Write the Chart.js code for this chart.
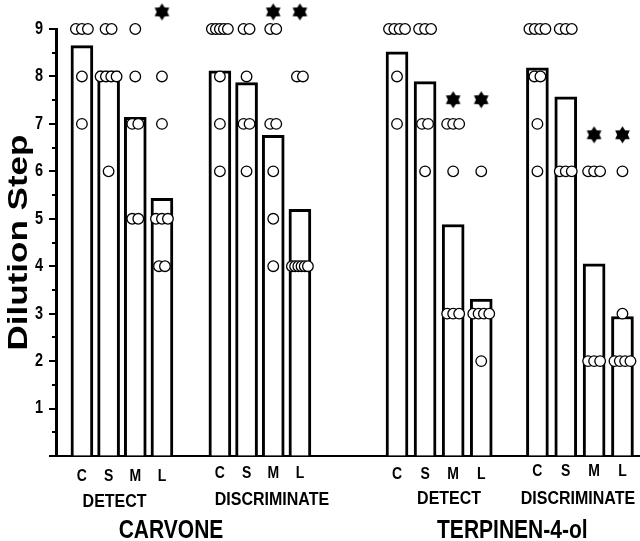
<!DOCTYPE html>
<html><head><meta charset="utf-8">
<script src="https://cdn.jsdelivr.net/npm/chart.js@4/dist/chart.umd.min.js"></script>
<style>html,body{margin:0;padding:0;background:#fff}</style>
</head><body>
<canvas id="c" width="640" height="541"></canvas>
<script>
// ---------- data ----------
const categories = ['C', 'S', 'M', 'L'];
const tasks = ['DETECT', 'DISCRIMINATE', 'DETECT', 'DISCRIMINATE'];
const compounds = ['CARVONE', 'TERPINEN-4-ol'];
const yTickValues = [1, 2, 3, 4, 5, 6, 7, 8, 9];
const yTitle = 'Dilution Step';

const carvoneDetectMeans  = [8.65, 8.12, 7.14, 5.43];
const carvoneDiscrimMeans = [8.12, 7.87, 6.76, 5.20];
const terpDetectMeans     = [8.52, 7.89, 4.88, 3.31];
const terpDiscrimMeans    = [8.18, 7.57, 4.05, 2.94];

const carvoneDetectPts  = [[9,9,9,8,7], [9,9,8,8,8,8,6], [9,8,7,7,5,5], [8,7,5,5,5,4,4]];
const carvoneDiscrimPts = [[9,9,9,9,9,8,7,6], [9,9,8,7,7,6], [9,9,7,7,6,5,4], [8,8,4,4,4,4,4,4]];
const terpDetectPts     = [[9,9,9,9,8,7], [9,9,9,7,7,6], [7,7,7,6,3,3,3], [6,3,3,3,3,2]];
const terpDiscrimPts    = [[9,9,9,9,8,8,7,6], [9,9,9,6,6,6], [6,6,6,2,2,2], [6,3,2,2,2,2]];

// significance markers (asterisks); null = none
const carvoneDetectSig  = [null, null, null, 9.36];
const carvoneDiscrimSig = [null, null, 9.36, 9.36];
const terpDetectSig     = [null, null, 7.51, 7.51];
const terpDiscrimSig    = [null, null, 6.77, 6.77];

// ---------- layout (x scale units: one bar slot) ----------
const groupStart = [0.96, 6.07, 12.63, 17.83];
const barStep    = [0.988, 0.988, 1.04, 1.05];
const taskLabelX = [2.17, 8.0, 14.56, 19.33];
const compoundLabelX = [4.26, 16.9];
const catLabelY  = [476, 473, 474, 471];
const taskLabelY = [502, 500, 499, 499];
const PX_PER_UNIT = 27;

const meansByGroup = [carvoneDetectMeans, carvoneDiscrimMeans, terpDetectMeans, terpDiscrimMeans];
const ptsByGroup   = [carvoneDetectPts, carvoneDiscrimPts, terpDetectPts, terpDiscrimPts];
const sigByGroup   = [carvoneDetectSig, carvoneDiscrimSig, terpDetectSig, terpDiscrimSig];

const barData = [], circleData = [], starData = [], barPositions = [];
meansByGroup.forEach((means, g) => {
  means.forEach((m, i) => {
    const x = groupStart[g] + i * barStep[g];
    barPositions.push(x);
    barData.push({x: x, y: m});
    const vals = ptsByGroup[g][i];
    const counts = {};
    vals.forEach(v => counts[v] = (counts[v] || 0) + 1);
    Object.keys(counts).forEach(k => {
      const n = counts[k];
      const sp = n > 1 ? Math.min(6, 16 / (n - 1)) : 0;
      for (let j = 0; j < n; j++) {
        circleData.push({x: x + ((j - (n - 1) / 2) * sp) / PX_PER_UNIT, y: Number(k)});
      }
    });
    const s = sigByGroup[g][i];
    if (s !== null) starData.push({x: x, y: s});
  });
});

// ---------- star glyph ----------
function makeStar(r) {
  const s = Math.ceil(r * 2 + 2);
  const c = document.createElement('canvas');
  c.width = s; c.height = s;
  const g = c.getContext('2d');
  g.translate(s / 2, s / 2);
  g.beginPath();
  for (let k = 0; k < 12; k++) {
    const a = -Math.PI / 2 + k * Math.PI / 6;
    const rr = k % 2 === 0 ? r : r * 0.62;
    g.lineTo(rr * Math.cos(a), rr * Math.sin(a));
  }
  g.closePath();
  g.fillStyle = '#000';
  g.fill();
  return c;
}
const starImg = makeStar(8.5);

const FONT = '"Liberation Sans", Arial, Helvetica, sans-serif';
Chart.defaults.color = '#000';
Chart.defaults.font.family = FONT;

function stretchedText(ctx, text, x, y, sy) {
  ctx.save();
  ctx.translate(x, y);
  ctx.scale(1, sy);
  ctx.fillText(text, 0, 0);
  ctx.restore();
}

const textPlugin = {
  id: 'texts',
  afterDraw(chart) {
    const ctx = chart.ctx;
    const xs = chart.scales.x, ys = chart.scales.y;
    const left = chart.chartArea.left;
    ctx.save();
    // y minor/major tick marks
    ctx.strokeStyle = '#000';
    ctx.lineWidth = 2;
    for (let v = 0; v <= 9.001; v += 0.5) {
      const py = Math.round(ys.getPixelForValue(v));
      const len = Math.abs(v - Math.round(v)) < 0.01 ? 7 : 4;
      ctx.beginPath();
      ctx.moveTo(left - len, py);
      ctx.lineTo(left, py);
      ctx.stroke();
    }
    ctx.fillStyle = '#000';
    // y tick labels
    ctx.textAlign = 'right';
    ctx.textBaseline = 'middle';
    ctx.font = 'bold 14.5px ' + FONT;
    yTickValues.forEach(v => stretchedText(ctx, String(v), left - 13, ys.getPixelForValue(v), 1.22));
    ctx.textAlign = 'center';
    // category labels under bars
    ctx.font = 'bold 14px ' + FONT;
    barPositions.forEach((v, i) => {
      const g = Math.floor(i / categories.length);
      stretchedText(ctx, categories[i % categories.length], xs.getPixelForValue(v), catLabelY[g], 1.2);
    });
    // task labels
    ctx.font = 'bold 16px ' + FONT;
    tasks.forEach((t, i) => stretchedText(ctx, t, xs.getPixelForValue(taskLabelX[i]), taskLabelY[i], 1.2));
    // compound labels
    ctx.font = 'bold 21px ' + FONT;
    compounds.forEach((t, i) => stretchedText(ctx, t, xs.getPixelForValue(compoundLabelX[i]), 531, 1.2));
    // y title
    ctx.font = 'bold 28px ' + FONT;
    ctx.save();
    ctx.translate(19, (ys.top + ys.bottom) / 2);
    ctx.rotate(-Math.PI / 2);
    ctx.scale(1.25, 1);
    ctx.fillText(yTitle, 0, 0);
    ctx.restore();
    ctx.restore();
  }
};

new Chart(document.getElementById('c'), {
  type: 'bar',
  data: {
    datasets: [
      {
        type: 'scatter', data: starData, order: 1, clip: false,
        pointStyle: starImg, radius: 20, hoverRadius: 20
      },
      {
        type: 'scatter', data: circleData, order: 2, clip: false,
        pointStyle: 'circle', radius: 5.3, borderWidth: 1.3,
        borderColor: '#000', backgroundColor: '#fff'
      },
      {
        type: 'bar', data: barData, order: 3,
        barThickness: 22, borderWidth: 3, borderColor: '#000',
        backgroundColor: '#fff', borderSkipped: 'bottom'
      }
    ]
  },
  options: {
    responsive: false,
    animation: false,
    events: [],
    layout: {autoPadding: false, padding: {top: 29, left: 0, right: 0, bottom: 0}},
    plugins: {legend: {display: false}, tooltip: {enabled: false}},
    scales: {
      x: {
        type: 'linear', min: 0, max: 584 / PX_PER_UNIT, offset: false,
        grid: {display: true, drawOnChartArea: false, drawTicks: false},
        border: {display: true, color: '#000', width: 2},
        afterBuildTicks(scale) { scale.ticks = barPositions.map(v => ({value: v})); },
        afterFit(scale) { scale.height = 85; },
        ticks: {display: false}
      },
      y: {
        type: 'linear', min: 0, max: 9,
        grid: {display: true, drawOnChartArea: false, drawTicks: false},
        border: {display: true, color: '#000', width: 3},
        afterBuildTicks(scale) { scale.ticks = [{value: 0}].concat(yTickValues.map(v => ({value: v}))); },
        afterFit(scale) { scale.width = 56; },
        ticks: {display: false}
      }
    }
  },
  plugins: [textPlugin]
});
</script>
</body></html>
